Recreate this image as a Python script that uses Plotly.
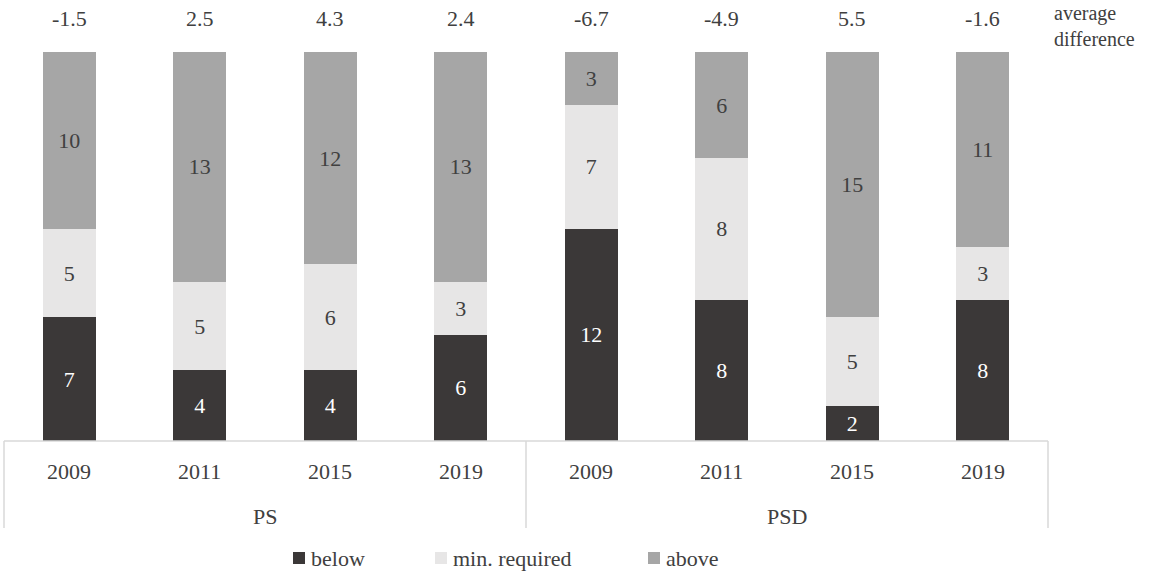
import plotly.graph_objects as go

# Survey years within each party group
years = ["2009", "2011", "2015", "2019", "2009", "2011", "2015", "2019"]
groups = ["PS", "PSD"]

# Counts per category (stacked bottom to top)
below = [7, 4, 4, 6, 12, 8, 2, 8]
min_required = [5, 5, 6, 3, 7, 8, 5, 3]
above = [10, 13, 12, 13, 3, 6, 15, 11]

# Average difference printed above each bar
avg_diff = [-1.5, 2.5, 4.3, 2.4, -6.7, -4.9, 5.5, -1.6]

W, H = 1151, 571
L, R, T, B = 4, 1048, 52, 441  # plot area in pixels

FONT = "Liberation Serif"
FS = 22
TXT = "#404040"
LINE = "#d9d9d9"

C_BELOW = "#3b3838"
C_MIN = "#e7e6e6"
C_ABOVE = "#a6a6a6"


def px_x(p):
    return (p - L) / (R - L)


def px_y(p):
    return (B - p) / (B - T)


xs = list(range(len(years)))
fig = go.Figure()

series = [
    ("below", below, C_BELOW, "white"),
    ("min. required", min_required, C_MIN, TXT),
    ("above", above, C_ABOVE, TXT),
]
for name, vals, col, tcol in series:
    fig.add_trace(go.Bar(
        x=xs, y=vals, name=name, width=0.405,
        marker=dict(color=col, line=dict(width=0)),
        text=[str(v) for v in vals], textposition="inside",
        insidetextanchor="middle", textangle=0,
        textfont=dict(family=FONT, size=FS, color=tcol),
        showlegend=False,
    ))

annotations = []
shapes = []

# values above bars
for i, d in enumerate(avg_diff):
    annotations.append(dict(x=i, y=px_y(19), xref="x", yref="paper",
                            text=f"{d:.1f}", showarrow=False,
                            font=dict(family=FONT, size=FS, color=TXT),
                            xanchor="center", yanchor="middle"))
# caption for the row of values above the bars
annotations.append(dict(x=px_x(1052), y=px_y(0), xref="paper", yref="paper",
                        text="average<br>difference", showarrow=False, align="left",
                        font=dict(family=FONT, size=20, color=TXT),
                        xanchor="left", yanchor="top"))

# year labels
for i, yr in enumerate(years):
    annotations.append(dict(x=i, y=px_y(471), xref="x", yref="paper",
                            text=yr, showarrow=False,
                            font=dict(family=FONT, size=FS, color=TXT),
                            xanchor="center", yanchor="middle"))
# group labels
for j, g in enumerate(groups):
    annotations.append(dict(x=1.5 + 4 * j, y=px_y(516), xref="x", yref="paper",
                            text=g, showarrow=False,
                            font=dict(family=FONT, size=FS, color=TXT),
                            xanchor="center", yanchor="middle"))

# axis line and group dividers
shapes.append(dict(type="line", xref="paper", yref="paper",
                   x0=0, x1=1, y0=0, y1=0, line=dict(color=LINE, width=1.5)))
for xp in (L, 526, R):
    shapes.append(dict(type="line", xref="paper", yref="paper",
                       x0=px_x(xp), x1=px_x(xp), y0=0, y1=px_y(528),
                       line=dict(color=LINE, width=1.5)))

# legend
legend_items = [("below", C_BELOW, 293), ("min. required", C_MIN, 435), ("above", C_ABOVE, 648)]
ly = 558
for name, col, mx in legend_items:
    shapes.append(dict(type="rect", xref="paper", yref="paper",
                       x0=px_x(mx), x1=px_x(mx + 12), y0=px_y(ly + 6), y1=px_y(ly - 6),
                       fillcolor=col, line=dict(width=0)))
    annotations.append(dict(x=px_x(mx + 16), y=px_y(ly), xref="paper", yref="paper",
                            text=name, showarrow=False,
                            font=dict(family=FONT, size=FS, color=TXT),
                            xanchor="left", yanchor="middle"))

fig.update_layout(
    width=W, height=H, barmode="stack",
    margin=dict(l=L, r=W - R, t=T, b=H - B),
    paper_bgcolor="white", plot_bgcolor="white",
    xaxis=dict(range=[-0.5, 7.5], visible=False, fixedrange=True),
    yaxis=dict(range=[0, 22], visible=False, fixedrange=True),
    annotations=annotations, shapes=shapes,
    uniformtext=dict(mode="show", minsize=FS),
    font=dict(family=FONT, size=FS, color=TXT),
)

fig.write_html("out.html")
